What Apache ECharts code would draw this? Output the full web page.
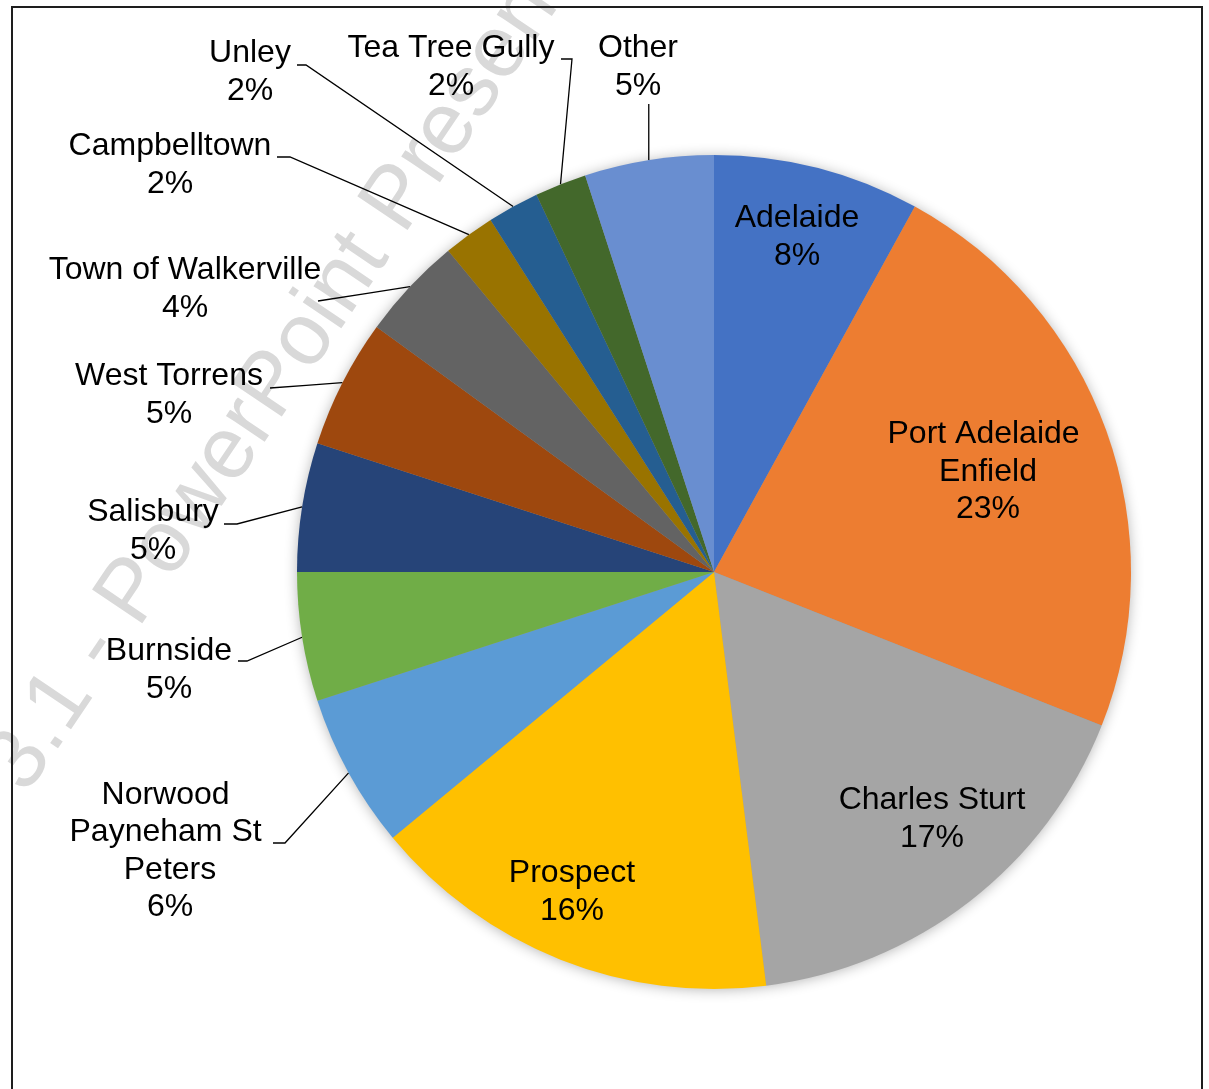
<!DOCTYPE html>
<html>
<head>
<meta charset="utf-8">
<title>Council share</title>
<script src="https://cdn.jsdelivr.net/npm/echarts@6/dist/echarts.min.js"></script>
<style>
  html, body { margin: 0; padding: 0; background: #fff; }
  #chart { width: 1209px; height: 1089px; }
</style>
</head>
<body>
<div id="chart"></div>
<script>
// Council areas, clockwise from 12 o'clock
const councils = [
  'Adelaide', 'Port Adelaide Enfield', 'Charles Sturt', 'Prospect',
  'Norwood Payneham St Peters', 'Burnside', 'Salisbury', 'West Torrens',
  'Town of Walkerville', 'Campbelltown', 'Unley', 'Tea Tree Gully', 'Other'
];
// Share of total, in percent
const shares = [8, 23, 17, 16, 6, 5, 5, 5, 4, 2, 2, 2, 5];

const sliceColors = [
  '#4472C4', '#ED7D31', '#A5A5A5', '#FFC000', '#5B9BD5', '#70AD47',
  '#264478', '#9E480E', '#636363', '#997300', '#255E91', '#43682B', '#698ED0'
];

// Label placement: [centreX, centreY, lineEndX, lineEndY, elbowX]
// (lineEndX null = vertical drop from the slice edge; elbowX null = straight line)
const labelSpots = [
  [797, 237],
  [988, 472],
  [932, 819],
  [572, 892],
  [170, 851, 273, 843, 285],
  [169, 670, 238, 661, 247],
  [153, 531, 224, 524, 237],
  [169, 395, 270, 388, null],
  [185, 289, 318, 301, null],
  [170, 165, 277, 157, 290],
  [250, 72, 297, 65, 306],
  [451, 67, 561, 59, 572],
  [638, 67, null, 104, null]
];
const insideCount = 4;

const CX = 714, CY = 572, R = 417;
const FONT = '"Liberation Sans", Arial, sans-serif';
const total = shares.reduce((a, b) => a + b, 0);

const chart = echarts.init(document.getElementById('chart'), null, { renderer: 'canvas' });

chart.setOption({
  animation: false,
  backgroundColor: '#fff',
  graphic: [
    {
      type: 'text',
      z: 0,
      x: 6, y: 782,
      rotation: 56 * Math.PI / 180,
      silent: true,
      style: {
        text: '3.1 - PowerPoint Presentation',
        font: '88px ' + FONT,
        fill: '#d9d9d9',
        align: 'left',
        verticalAlign: 'middle'
      }
    },
    {
      type: 'rect',
      z: 100,
      silent: true,
      shape: { x: 12, y: 7, width: 1190, height: 1110 },
      style: { fill: 'none', stroke: '#1e1e1e', lineWidth: 2 }
    }
  ],
  series: [
    {
      // soft drop shadow behind the pie
      type: 'pie',
      silent: true,
      z: 1,
      center: [CX, CY],
      radius: R - 1,
      label: { show: false },
      labelLine: { show: false },
      data: [{
        value: total,
        itemStyle: {
          color: '#9a9a9a',
          shadowBlur: 14,
          shadowColor: 'rgba(0,0,0,0.32)',
          shadowOffsetY: 1
        }
      }]
    },
    {
      type: 'pie',
      z: 2,
      center: [CX, CY],
      radius: R,
      startAngle: 90,
      clockwise: true,
      avoidLabelOverlap: false,
      itemStyle: { borderWidth: 0 },
      label: {
        show: true,
        position: 'outside',
        formatter: '{b}\n{c}%',
        fontFamily: FONT,
        fontSize: 32,
        lineHeight: 37.5,
        color: '#000',
        align: 'center'
      },
      labelLine: {
        show: true,
        length: 20,
        length2: 10,
        lineStyle: { color: '#000', width: 1.3 }
      },
      labelLayout: function (p) {
        const s = labelSpots[p.dataIndex];
        const res = { x: s[0], y: s[1], align: 'center', verticalAlign: 'middle' };
        const pts = p.labelLinePoints;
        if (s.length > 2 && pts) {
          const start = pts[0];
          const endX = s[2] == null ? start[0] : s[2];
          const end = [endX, s[3]];
          const bend = s[4] == null ? [(start[0] + end[0]) / 2, (start[1] + end[1]) / 2] : [s[4], s[3]];
          res.labelLinePoints = [start, bend, end];
        }
        return res;
      },
      data: councils.map((name, i) => {
        const item = {
          name: name,
          value: shares[i],
          itemStyle: { color: sliceColors[i] }
        };
        const lbl = {};
        if (i < insideCount) lbl.position = 'inside';
        if (name.length > 20) { lbl.width = 215; lbl.overflow = 'break'; }
        item.label = lbl;
        if (i < insideCount) item.labelLine = { show: false };
        return item;
      })
    }
  ]
});
</script>
</body>
</html>
